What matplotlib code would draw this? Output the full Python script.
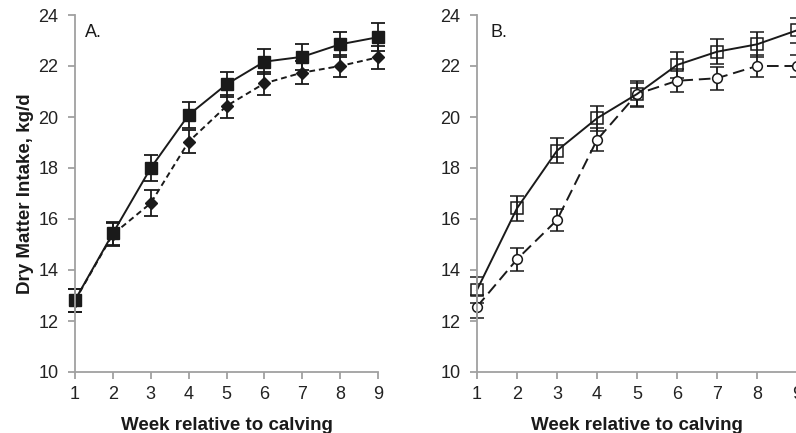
import numpy as np
import matplotlib.pyplot as plt

plt.rcParams['font.family'] = ['Liberation Sans', 'DejaVu Sans']

weeks = [1, 2, 3, 4, 5, 6, 7, 8, 9]

# panel A
a_solid = [12.82, 15.44, 18.0, 20.08, 21.28, 22.17, 22.36, 22.85, 23.13]
a_solid_se = [0.45, 0.45, 0.5, 0.5, 0.5, 0.5, 0.5, 0.5, 0.55]
a_dash = [12.8, 15.4, 16.62, 19.03, 20.43, 21.32, 21.74, 22.0, 22.34]
a_dash_se = [0.45, 0.45, 0.5, 0.45, 0.45, 0.45, 0.45, 0.45, 0.45]

# panel B
b_solid = [13.22, 16.42, 18.68, 19.95, 20.9, 22.04, 22.56, 22.85, 23.4]
b_solid_se = [0.5, 0.5, 0.5, 0.5, 0.5, 0.5, 0.5, 0.5, 0.5]
b_dash = [12.56, 14.42, 15.96, 19.1, 20.9, 21.42, 21.52, 22.0, 22.0]
b_dash_se = [0.45, 0.45, 0.45, 0.45, 0.45, 0.45, 0.45, 0.45, 0.45]

W, H = 796, 433
fig = plt.figure(figsize=(W / 100, H / 100), dpi=100)
ax_a = fig.add_axes([75 / W, 1 - 372 / H, (378 - 75) / W, (372 - 15) / H])
ax_b = fig.add_axes([477 / W, 1 - 372 / H, (797 - 477) / W, (372 - 15) / H])

ink = '#1a1a1a'
ebkw = dict(capsize=5, elinewidth=1.3, capthick=1.3, ecolor=ink)


def draw(ax, y, se, **kw):
    lines = ax.errorbar(weeks, y, yerr=se, color=ink, lw=1.4, **ebkw, **kw)
    for art in lines.get_children():
        art.set_clip_on(False)


draw(ax_a, a_dash, a_dash_se, ls=(0, (3, 2)), marker='D', ms=6, mfc=ink, mec=ink)
draw(ax_a, a_solid, a_solid_se, ls='-', marker='s', ms=9, mfc=ink, mec=ink)

draw(ax_b, b_dash, b_dash_se, ls=(0, (6, 3)), marker='o', ms=7,
     mfc='white', mec=ink, mew=1.1)
draw(ax_b, b_solid, b_solid_se, ls='-', marker='s', ms=9,
     mfc='none', mec=ink, mew=1.1)

for ax, lab, xoff in [(ax_a, 'A.', 0.033), (ax_b, 'B.', 0.042)]:
    ax.set_xlim(1, 9)
    ax.set_ylim(10, 24)
    ax.set_xticks(weeks)
    ax.set_yticks(np.arange(10, 25, 2))
    for s in ['top', 'right']:
        ax.spines[s].set_visible(False)
    for s in ['left', 'bottom']:
        ax.spines[s].set_color('#a0a0a0')
        ax.spines[s].set_linewidth(1.3)
    ax.tick_params(axis='both', colors='#a0a0a0', labelcolor='#222222',
                   labelsize=13, length=5, width=1.3, direction='out')
    ax.tick_params(axis='x', pad=5)
    ax.tick_params(axis='y', pad=7)
    ax.set_xlabel('Week relative to calving', fontsize=13.5, fontweight='bold',
                  color=ink, labelpad=10)
    ax.text(xoff, 0.975, lab, transform=ax.transAxes, fontsize=13,
            color=ink, va='top', ha='left')
    ax.patch.set_visible(False)

ax_a.set_ylabel('Dry Matter Intake, kg/d', fontsize=13.5, fontweight='bold',
                color=ink, labelpad=3)

fig.savefig('out.png', dpi=100)
